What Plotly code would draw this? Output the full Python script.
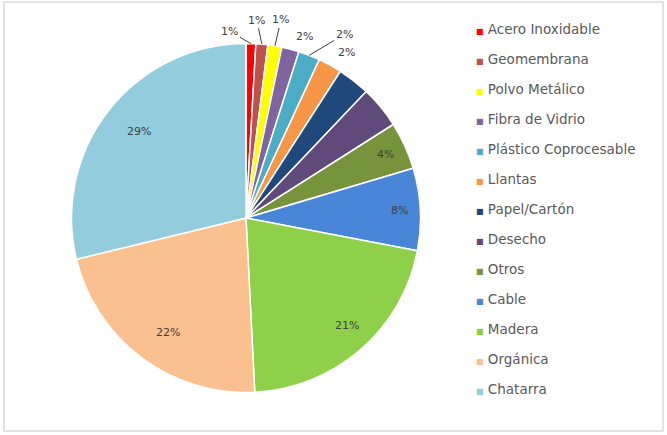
import math
import plotly.graph_objects as go

# Composición de residuos (porcentaje)
categorias = [
    "Acero Inoxidable", "Geomembrana", "Polvo Metálico", "Fibra de Vidrio",
    "Plástico Coprocesable", "Llantas", "Papel/Cartón", "Desecho", "Otros",
    "Cable", "Madera", "Orgánica", "Chatarra",
]
porcentajes = [0.9, 1.1, 1.3, 1.6, 2.0, 2.2, 3.0, 3.9, 4.4, 7.6, 21.2, 22.0, 28.8]
colores = [
    "#FF0000", "#C0504D", "#FFFF00", "#8064A2", "#4BACC6", "#F79646",
    "#1F497D", "#604A7B", "#77933C", "#4A86D8", "#8ED04A", "#FAC08F", "#93CDDD",
]

# Etiquetas exteriores: desplazamiento (px) desde el borde del sector y línea guía
etiquetas_exteriores = {
    "Acero Inoxidable": (-21, -12, True),
    "Geomembrana": (-5, -24, True),
    "Polvo Metálico": (6, -26, True),
    "Fibra de Vidrio": (14, -13, False),
    "Plástico Coprocesable": (35, -21, True),
    "Llantas": (16, -13, False),
}
etiquetas_interiores = ["Otros", "Cable", "Madera", "Orgánica", "Chatarra"]

W, H = 667, 435
CX, CY, R = 246, 218, 174.5          # centro y radio del pastel en píxeles
FUENTE = "DejaVu Sans, Liberation Sans, Arial"
TEXTO = "#404040"

fig = go.Figure()

fig.add_trace(go.Pie(
    labels=categorias,
    values=porcentajes,
    sort=False,
    direction="clockwise",
    rotation=0,
    marker=dict(colors=colores, line=dict(color="white", width=1.5)),
    textinfo="none",
    showlegend=False,
    hoverinfo="label+percent",
    domain=dict(x=[(CX - R) / W, (CX + R) / W],
                y=[1 - (CY + R) / H, 1 - (CY - R) / H]),
))


def punto(ang, r):
    """Posición en coordenadas de papel para un ángulo (horario desde arriba) y radio en px."""
    return (CX + r * math.sin(ang)) / W, 1 - (CY - r * math.cos(ang)) / H


total = sum(porcentajes)
anotaciones = []
acum = 0.0
for nombre, valor in zip(categorias, porcentajes):
    medio = (acum + valor / 2) / total * 2 * math.pi
    acum += valor
    texto = f"{round(valor / total * 100)}%"
    if nombre in etiquetas_interiores:
        x, y = punto(medio, 0.88 * R)
        anotaciones.append(dict(x=x, y=y, xref="paper", yref="paper", text=texto,
                                showarrow=False,
                                font=dict(family=FUENTE, size=11, color=TEXTO)))
    elif nombre in etiquetas_exteriores:
        dx, dy, guia = etiquetas_exteriores[nombre]
        x, y = punto(medio, R)
        anotaciones.append(dict(x=x, y=y, xref="paper", yref="paper", text=texto,
                                showarrow=True, ax=dx, ay=dy, arrowhead=0,
                                arrowwidth=1, standoff=0,
                                arrowcolor=TEXTO if guia else "rgba(0,0,0,0)",
                                font=dict(family=FUENTE, size=11, color=TEXTO)))

# Entradas de la leyenda, una por categoría
for nombre, color in zip(categorias, colores):
    fig.add_trace(go.Scatter(
        x=[None], y=[None], mode="lines", legendgroup=nombre,
        name=f"<span style='color:{color};font-size:8px'>■</span> {nombre}",
        line=dict(width=0, color=color),
    ))

fig.update_layout(
    width=W, height=H,
    margin=dict(l=0, r=0, t=0, b=0),
    paper_bgcolor="white", plot_bgcolor="white",
    xaxis=dict(visible=False), yaxis=dict(visible=False),
    annotations=anotaciones,
    legend=dict(
        x=436 / W, y=1 - 13 / H, xanchor="left", yanchor="top",
        font=dict(family=FUENTE, size=13.5, color="#595959"),
        tracegroupgap=9.5, itemwidth=30, maxheight=600,
        bgcolor="rgba(0,0,0,0)",
    ),
    shapes=[dict(
        type="rect", xref="paper", yref="paper",
        x0=4 / W, x1=663 / W, y0=1 - 431 / H, y1=1 - 2 / H,
        line=dict(color="#D9D9D9", width=1.5), fillcolor="rgba(0,0,0,0)",
    )],
)

fig.write_html("out.html")
